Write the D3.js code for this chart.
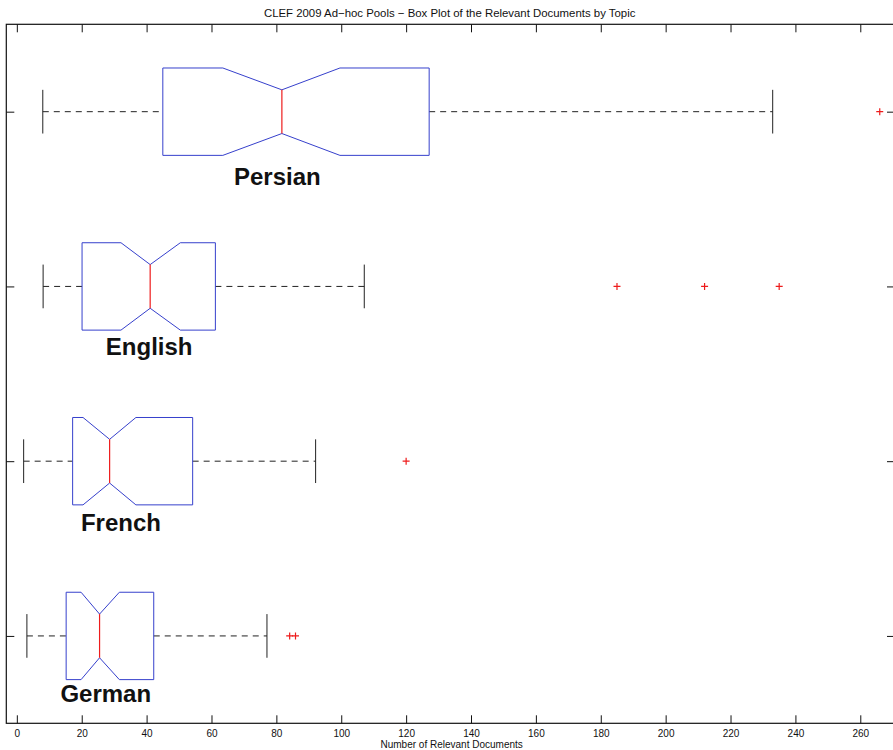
<!DOCTYPE html>
<html>
<head>
<meta charset="utf-8">
<script src="https://cdn.jsdelivr.net/npm/d3@7"></script>
<style>
  html, body { margin: 0; padding: 0; background: #fff; }
  svg { display: block; font-family: "Liberation Sans", Arial, Helvetica, sans-serif; }
</style>
</head>
<body>
<svg id="chart" width="893" height="750"></svg>
<script>
// Pools of relevant documents per topic, one box per language (bottom to top)
const languages   = ["German", "French", "English", "Persian"];
const whiskerLow  = [3.1, 2.1, 8.1, 8.0];
const quartile1   = [15.2, 17.2, 20.1, 45.0];
const medians     = [25.5, 28.6, 41.1, 81.7];
const quartile3   = [42.2, 54.2, 61.2, 127.1];
const whiskerHigh = [77.1, 92.1, 107.1, 233.0];
const notchLow    = [19.8, 20.4, 32.1, 63.5];
const notchHigh   = [31.6, 36.7, 50.4, 99.6];
const outliers    = [[84.1, 85.9], [120.0], [185.0, 212.0, 235.0], [266.0]];

// Where each language name is written (data coordinates)
const labelAtX = [27.4, 32.1, 40.8, 80.3];
const labelAtY = [0.62, 1.60, 2.61, 3.58];

const xTicks = d3.range(0, 261, 20);
const yTicks = [1, 2, 3, 4];

const title  = "CLEF 2009 Ad\u2212hoc Pools \u2212 Box Plot of the Relevant Documents by Topic";
const xTitle = "Number of Relevant Documents";

const plotLeft = 6.3, plotRight = 895, plotTop = 24.3, plotBottom = 723.3;

const x = d3.scaleLinear().domain([-3.25, 270.7]).range([plotLeft, plotRight]);
const y = d3.scaleLinear().domain([0.5, 4.5]).range([plotBottom, plotTop]);

const svg = d3.select("#chart");
const boxHalf = 0.25, notchHalf = 0.125, capHalf = 0.125;

const BLUE = "#3640cc", RED = "#ee1c1c", INK = "#111";

const data = languages.map((name, i) => ({
  name, pos: i + 1,
  lo: whiskerLow[i], q1: quartile1[i], med: medians[i], q3: quartile3[i], hi: whiskerHigh[i],
  nLo: notchLow[i], nHi: notchHigh[i], out: outliers[i],
  lx: labelAtX[i], ly: labelAtY[i]
}));

// Title
svg.append("text")
  .attr("x", (plotLeft + plotRight) / 2 - 1).attr("y", 16.5)
  .attr("text-anchor", "middle").attr("font-size", 11.4).attr("fill", "#111")
  .text(title);

// Axes: ticks point inward on all four sides
const gBottom = svg.append("g").attr("transform", `translate(0,${plotBottom})`)
  .call(d3.axisBottom(x).tickValues(xTicks).tickSize(-8).tickPadding(7).tickFormat(d3.format("d")));
const gTop = svg.append("g").attr("transform", `translate(0,${plotTop})`)
  .call(d3.axisTop(x).tickValues(xTicks).tickSize(-8).tickFormat(""));
const gLeft = svg.append("g").attr("transform", `translate(${plotLeft},0)`)
  .call(d3.axisLeft(y).tickValues(yTicks).tickSize(-8).tickFormat(""));
const gRight = svg.append("g").attr("transform", `translate(${plotRight},0)`)
  .call(d3.axisRight(y).tickValues(yTicks).tickSize(-8).tickFormat(""));

[gBottom, gTop, gLeft, gRight].forEach(g => {
  g.select(".domain").remove();
  g.selectAll(".tick line").attr("stroke", INK).attr("stroke-width", 1);
});
gBottom.selectAll(".tick text").attr("font-size", 10).attr("fill", "#111")
  .attr("font-family", "\"Liberation Sans\", Arial, sans-serif");

// Frame
svg.append("rect")
  .attr("x", plotLeft).attr("y", plotTop)
  .attr("width", plotRight - plotLeft).attr("height", plotBottom - plotTop)
  .attr("fill", "none").attr("stroke", INK).attr("stroke-width", 1.2);

// X axis title
svg.append("text")
  .attr("x", (plotLeft + plotRight) / 2 + 1).attr("y", 747.5)
  .attr("text-anchor", "middle").attr("font-size", 10).attr("fill", "#111")
  .text(xTitle);

const plot = svg.append("g");

const groups = plot.selectAll("g.box").data(data).join("g").attr("class", "box");

// Dashed whiskers
groups.append("line")
  .attr("x1", d => x(d.lo)).attr("x2", d => x(d.q1))
  .attr("y1", d => y(d.pos)).attr("y2", d => y(d.pos))
  .attr("stroke", "#222").attr("stroke-dasharray", "6,5");
groups.append("line")
  .attr("x1", d => x(d.q3)).attr("x2", d => x(d.hi))
  .attr("y1", d => y(d.pos)).attr("y2", d => y(d.pos))
  .attr("stroke", "#222").attr("stroke-dasharray", "6,5");

// Whisker caps
groups.selectAll("line.cap").data(d => [d.lo, d.hi].map(v => ({ v, pos: d.pos })))
  .join("line").attr("class", "cap")
  .attr("x1", c => x(c.v)).attr("x2", c => x(c.v))
  .attr("y1", c => y(c.pos + capHalf)).attr("y2", c => y(c.pos - capHalf))
  .attr("stroke", "#222").attr("stroke-width", 1);

// Notched boxes
const line = d3.line();
groups.append("path")
  .attr("d", d => {
    const t = d.pos + boxHalf, b = d.pos - boxHalf;
    return line([
      [x(d.q1), y(t)], [x(d.nLo), y(t)], [x(d.med), y(d.pos + notchHalf)],
      [x(d.nHi), y(t)], [x(d.q3), y(t)], [x(d.q3), y(b)],
      [x(d.nHi), y(b)], [x(d.med), y(d.pos - notchHalf)], [x(d.nLo), y(b)],
      [x(d.q1), y(b)]
    ]) + "Z";
  })
  .attr("fill", "none").attr("stroke", BLUE).attr("stroke-width", 1);

// Medians
groups.append("line")
  .attr("x1", d => x(d.med)).attr("x2", d => x(d.med))
  .attr("y1", d => y(d.pos + notchHalf)).attr("y2", d => y(d.pos - notchHalf))
  .attr("stroke", RED).attr("stroke-width", 1.2);

// Outliers as red plus signs
groups.selectAll("path.outlier").data(d => d.out.map(v => ({ v, pos: d.pos })))
  .join("path").attr("class", "outlier")
  .attr("transform", o => `translate(${x(o.v)},${y(o.pos)})`)
  .attr("d", "M-3.5,0H3.5M0,-3.5V3.5")
  .attr("stroke", RED).attr("stroke-width", 1.2);

// Language names
groups.append("text")
  .attr("x", d => x(d.lx)).attr("y", d => y(d.ly))
  .attr("text-anchor", "middle")
  .attr("font-size", 24).attr("font-weight", "bold").attr("fill", "#111")
  .text(d => d.name);
</script>
</body>
</html>
